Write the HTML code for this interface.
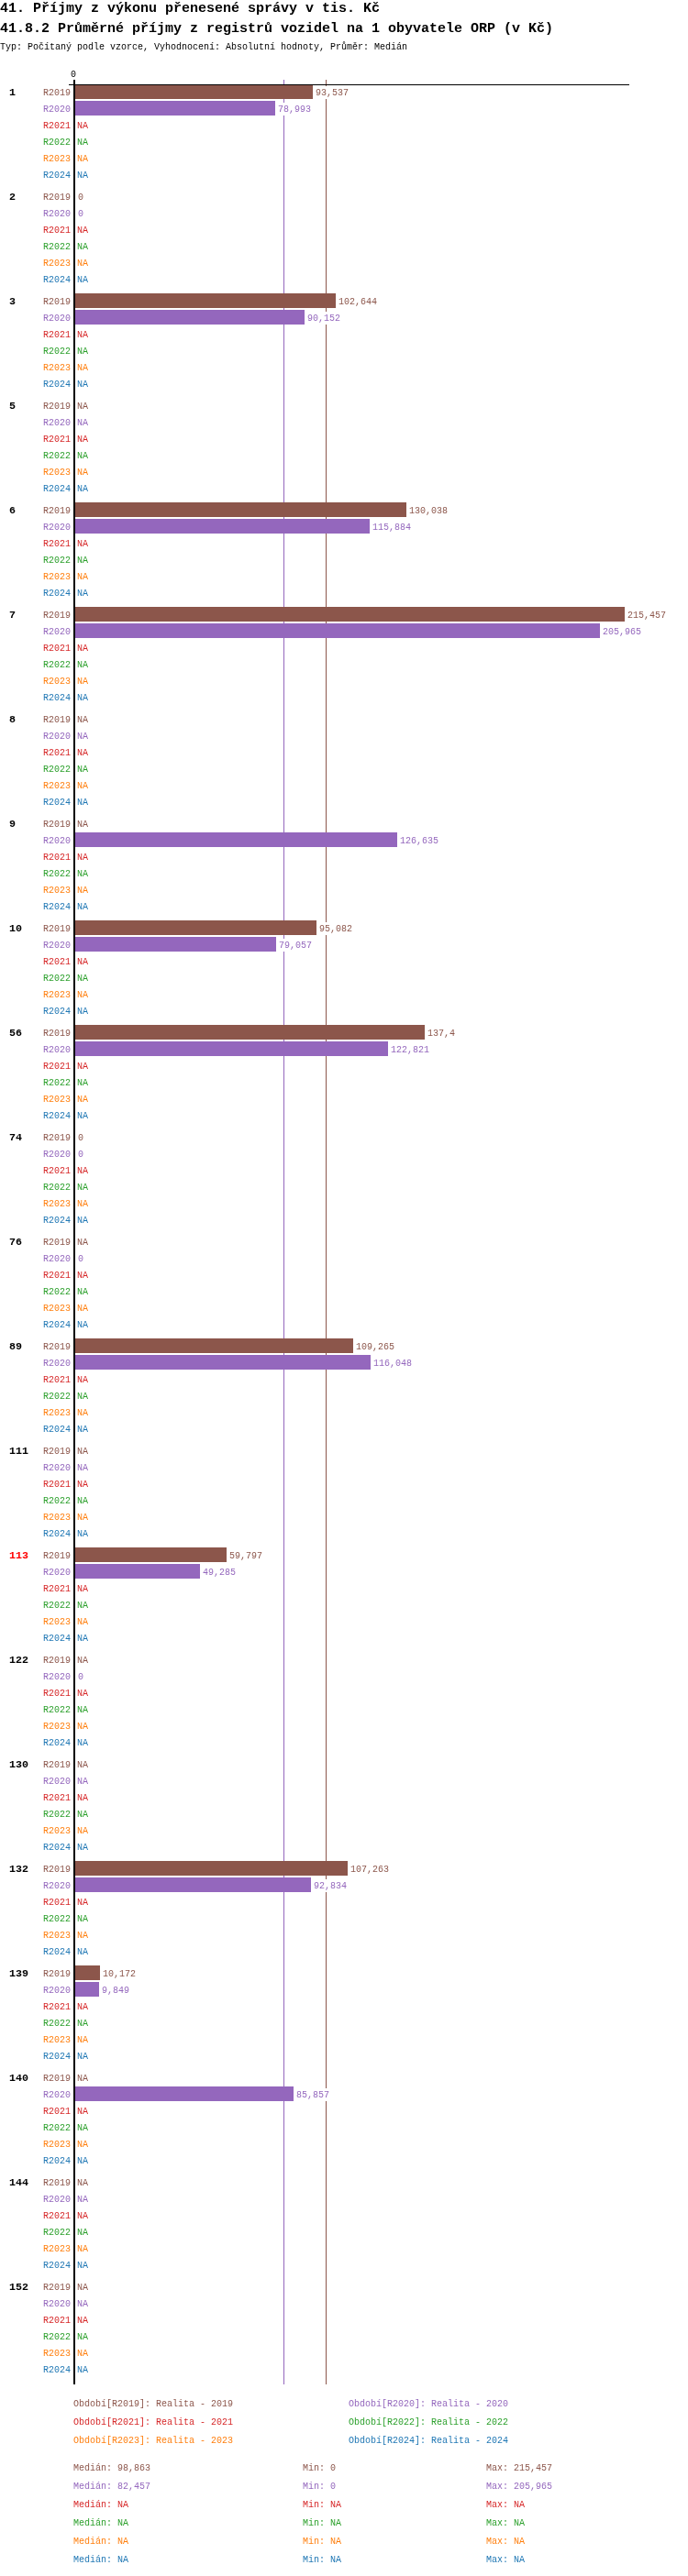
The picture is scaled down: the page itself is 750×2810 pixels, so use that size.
<!DOCTYPE html>
<html><head><meta charset="utf-8"><style>
html{background:#fff;}html,body{margin:0;padding:0;}
body{width:750px;height:2810px;position:relative;overflow:hidden;will-change:transform;font-family:"Liberation Mono",monospace;}
.t{position:absolute;white-space:pre;font-size:10px;line-height:12px;}
.h{position:absolute;left:0;white-space:pre;font-weight:bold;font-size:15px;line-height:18px;color:#000;}
.b{position:absolute;height:16px;left:82px;}
.g{position:absolute;left:10px;white-space:pre;font-weight:bold;font-size:11.67px;line-height:12px;color:#000;}
.l{position:absolute;}
.v{background:#fff;padding-top:2px;}
</style></head><body>

<div class="h" style="top:1px">41. Příjmy z výkonu přenesené správy v tis. Kč</div>
<div class="h" style="top:23px">41.8.2 Průměrné příjmy z registrů vozidel na 1 obyvatele ORP (v Kč)</div>
<div class="t" style="left:0;top:46px;color:#000">Typ: Počítaný podle vzorce, Vyhodnocení: Absolutní hodnoty, Průměr: Medián</div>
<div class="t" style="left:77px;top:76px;color:#000">0</div>
<div class="l" style="left:309px;top:87px;width:1px;height:2514px;background:#9467bd"></div>
<div class="l" style="left:355px;top:87px;width:1px;height:2514px;background:#8c564b"></div>
<div class="g" style="top:95px;color:#000">1</div>
<div class="t" style="left:47px;top:96px;color:#8c564b">R2019</div>
<div class="b" style="top:92px;width:259px;background:#8c564b"></div>
<div class="t v" style="left:344px;top:94px;color:#8c564b">93,537</div>
<div class="t" style="left:47px;top:114px;color:#9467bd">R2020</div>
<div class="b" style="top:110px;width:218px;background:#9467bd"></div>
<div class="t v" style="left:303px;top:112px;color:#9467bd">78,993</div>
<div class="t" style="left:47px;top:132px;color:#d62728">R2021</div>
<div class="t v" style="left:84px;top:130px;color:#d62728">NA</div>
<div class="t" style="left:47px;top:150px;color:#2ca02c">R2022</div>
<div class="t v" style="left:84px;top:148px;color:#2ca02c">NA</div>
<div class="t" style="left:47px;top:168px;color:#ff7f0e">R2023</div>
<div class="t v" style="left:84px;top:166px;color:#ff7f0e">NA</div>
<div class="t" style="left:47px;top:186px;color:#1f77b4">R2024</div>
<div class="t v" style="left:84px;top:184px;color:#1f77b4">NA</div>
<div class="g" style="top:209px;color:#000">2</div>
<div class="t" style="left:47px;top:210px;color:#8c564b">R2019</div>
<div class="t v" style="left:85px;top:208px;color:#8c564b">0</div>
<div class="t" style="left:47px;top:228px;color:#9467bd">R2020</div>
<div class="t v" style="left:85px;top:226px;color:#9467bd">0</div>
<div class="t" style="left:47px;top:246px;color:#d62728">R2021</div>
<div class="t v" style="left:84px;top:244px;color:#d62728">NA</div>
<div class="t" style="left:47px;top:264px;color:#2ca02c">R2022</div>
<div class="t v" style="left:84px;top:262px;color:#2ca02c">NA</div>
<div class="t" style="left:47px;top:282px;color:#ff7f0e">R2023</div>
<div class="t v" style="left:84px;top:280px;color:#ff7f0e">NA</div>
<div class="t" style="left:47px;top:300px;color:#1f77b4">R2024</div>
<div class="t v" style="left:84px;top:298px;color:#1f77b4">NA</div>
<div class="g" style="top:323px;color:#000">3</div>
<div class="t" style="left:47px;top:324px;color:#8c564b">R2019</div>
<div class="b" style="top:320px;width:284px;background:#8c564b"></div>
<div class="t v" style="left:369px;top:322px;color:#8c564b">102,644</div>
<div class="t" style="left:47px;top:342px;color:#9467bd">R2020</div>
<div class="b" style="top:338px;width:250px;background:#9467bd"></div>
<div class="t v" style="left:335px;top:340px;color:#9467bd">90,152</div>
<div class="t" style="left:47px;top:360px;color:#d62728">R2021</div>
<div class="t v" style="left:84px;top:358px;color:#d62728">NA</div>
<div class="t" style="left:47px;top:378px;color:#2ca02c">R2022</div>
<div class="t v" style="left:84px;top:376px;color:#2ca02c">NA</div>
<div class="t" style="left:47px;top:396px;color:#ff7f0e">R2023</div>
<div class="t v" style="left:84px;top:394px;color:#ff7f0e">NA</div>
<div class="t" style="left:47px;top:414px;color:#1f77b4">R2024</div>
<div class="t v" style="left:84px;top:412px;color:#1f77b4">NA</div>
<div class="g" style="top:437px;color:#000">5</div>
<div class="t" style="left:47px;top:438px;color:#8c564b">R2019</div>
<div class="t v" style="left:84px;top:436px;color:#8c564b">NA</div>
<div class="t" style="left:47px;top:456px;color:#9467bd">R2020</div>
<div class="t v" style="left:84px;top:454px;color:#9467bd">NA</div>
<div class="t" style="left:47px;top:474px;color:#d62728">R2021</div>
<div class="t v" style="left:84px;top:472px;color:#d62728">NA</div>
<div class="t" style="left:47px;top:492px;color:#2ca02c">R2022</div>
<div class="t v" style="left:84px;top:490px;color:#2ca02c">NA</div>
<div class="t" style="left:47px;top:510px;color:#ff7f0e">R2023</div>
<div class="t v" style="left:84px;top:508px;color:#ff7f0e">NA</div>
<div class="t" style="left:47px;top:528px;color:#1f77b4">R2024</div>
<div class="t v" style="left:84px;top:526px;color:#1f77b4">NA</div>
<div class="g" style="top:551px;color:#000">6</div>
<div class="t" style="left:47px;top:552px;color:#8c564b">R2019</div>
<div class="b" style="top:548px;width:361px;background:#8c564b"></div>
<div class="t v" style="left:446px;top:550px;color:#8c564b">130,038</div>
<div class="t" style="left:47px;top:570px;color:#9467bd">R2020</div>
<div class="b" style="top:566px;width:321px;background:#9467bd"></div>
<div class="t v" style="left:406px;top:568px;color:#9467bd">115,884</div>
<div class="t" style="left:47px;top:588px;color:#d62728">R2021</div>
<div class="t v" style="left:84px;top:586px;color:#d62728">NA</div>
<div class="t" style="left:47px;top:606px;color:#2ca02c">R2022</div>
<div class="t v" style="left:84px;top:604px;color:#2ca02c">NA</div>
<div class="t" style="left:47px;top:624px;color:#ff7f0e">R2023</div>
<div class="t v" style="left:84px;top:622px;color:#ff7f0e">NA</div>
<div class="t" style="left:47px;top:642px;color:#1f77b4">R2024</div>
<div class="t v" style="left:84px;top:640px;color:#1f77b4">NA</div>
<div class="g" style="top:665px;color:#000">7</div>
<div class="t" style="left:47px;top:666px;color:#8c564b">R2019</div>
<div class="b" style="top:662px;width:599px;background:#8c564b"></div>
<div class="t v" style="left:684px;top:664px;color:#8c564b">215,457</div>
<div class="t" style="left:47px;top:684px;color:#9467bd">R2020</div>
<div class="b" style="top:680px;width:572px;background:#9467bd"></div>
<div class="t v" style="left:657px;top:682px;color:#9467bd">205,965</div>
<div class="t" style="left:47px;top:702px;color:#d62728">R2021</div>
<div class="t v" style="left:84px;top:700px;color:#d62728">NA</div>
<div class="t" style="left:47px;top:720px;color:#2ca02c">R2022</div>
<div class="t v" style="left:84px;top:718px;color:#2ca02c">NA</div>
<div class="t" style="left:47px;top:738px;color:#ff7f0e">R2023</div>
<div class="t v" style="left:84px;top:736px;color:#ff7f0e">NA</div>
<div class="t" style="left:47px;top:756px;color:#1f77b4">R2024</div>
<div class="t v" style="left:84px;top:754px;color:#1f77b4">NA</div>
<div class="g" style="top:779px;color:#000">8</div>
<div class="t" style="left:47px;top:780px;color:#8c564b">R2019</div>
<div class="t v" style="left:84px;top:778px;color:#8c564b">NA</div>
<div class="t" style="left:47px;top:798px;color:#9467bd">R2020</div>
<div class="t v" style="left:84px;top:796px;color:#9467bd">NA</div>
<div class="t" style="left:47px;top:816px;color:#d62728">R2021</div>
<div class="t v" style="left:84px;top:814px;color:#d62728">NA</div>
<div class="t" style="left:47px;top:834px;color:#2ca02c">R2022</div>
<div class="t v" style="left:84px;top:832px;color:#2ca02c">NA</div>
<div class="t" style="left:47px;top:852px;color:#ff7f0e">R2023</div>
<div class="t v" style="left:84px;top:850px;color:#ff7f0e">NA</div>
<div class="t" style="left:47px;top:870px;color:#1f77b4">R2024</div>
<div class="t v" style="left:84px;top:868px;color:#1f77b4">NA</div>
<div class="g" style="top:893px;color:#000">9</div>
<div class="t" style="left:47px;top:894px;color:#8c564b">R2019</div>
<div class="t v" style="left:84px;top:892px;color:#8c564b">NA</div>
<div class="t" style="left:47px;top:912px;color:#9467bd">R2020</div>
<div class="b" style="top:908px;width:351px;background:#9467bd"></div>
<div class="t v" style="left:436px;top:910px;color:#9467bd">126,635</div>
<div class="t" style="left:47px;top:930px;color:#d62728">R2021</div>
<div class="t v" style="left:84px;top:928px;color:#d62728">NA</div>
<div class="t" style="left:47px;top:948px;color:#2ca02c">R2022</div>
<div class="t v" style="left:84px;top:946px;color:#2ca02c">NA</div>
<div class="t" style="left:47px;top:966px;color:#ff7f0e">R2023</div>
<div class="t v" style="left:84px;top:964px;color:#ff7f0e">NA</div>
<div class="t" style="left:47px;top:984px;color:#1f77b4">R2024</div>
<div class="t v" style="left:84px;top:982px;color:#1f77b4">NA</div>
<div class="g" style="top:1007px;color:#000">10</div>
<div class="t" style="left:47px;top:1008px;color:#8c564b">R2019</div>
<div class="b" style="top:1004px;width:263px;background:#8c564b"></div>
<div class="t v" style="left:348px;top:1006px;color:#8c564b">95,082</div>
<div class="t" style="left:47px;top:1026px;color:#9467bd">R2020</div>
<div class="b" style="top:1022px;width:219px;background:#9467bd"></div>
<div class="t v" style="left:304px;top:1024px;color:#9467bd">79,057</div>
<div class="t" style="left:47px;top:1044px;color:#d62728">R2021</div>
<div class="t v" style="left:84px;top:1042px;color:#d62728">NA</div>
<div class="t" style="left:47px;top:1062px;color:#2ca02c">R2022</div>
<div class="t v" style="left:84px;top:1060px;color:#2ca02c">NA</div>
<div class="t" style="left:47px;top:1080px;color:#ff7f0e">R2023</div>
<div class="t v" style="left:84px;top:1078px;color:#ff7f0e">NA</div>
<div class="t" style="left:47px;top:1098px;color:#1f77b4">R2024</div>
<div class="t v" style="left:84px;top:1096px;color:#1f77b4">NA</div>
<div class="g" style="top:1121px;color:#000">56</div>
<div class="t" style="left:47px;top:1122px;color:#8c564b">R2019</div>
<div class="b" style="top:1118px;width:381px;background:#8c564b"></div>
<div class="t v" style="left:466px;top:1120px;color:#8c564b">137,4</div>
<div class="t" style="left:47px;top:1140px;color:#9467bd">R2020</div>
<div class="b" style="top:1136px;width:341px;background:#9467bd"></div>
<div class="t v" style="left:426px;top:1138px;color:#9467bd">122,821</div>
<div class="t" style="left:47px;top:1158px;color:#d62728">R2021</div>
<div class="t v" style="left:84px;top:1156px;color:#d62728">NA</div>
<div class="t" style="left:47px;top:1176px;color:#2ca02c">R2022</div>
<div class="t v" style="left:84px;top:1174px;color:#2ca02c">NA</div>
<div class="t" style="left:47px;top:1194px;color:#ff7f0e">R2023</div>
<div class="t v" style="left:84px;top:1192px;color:#ff7f0e">NA</div>
<div class="t" style="left:47px;top:1212px;color:#1f77b4">R2024</div>
<div class="t v" style="left:84px;top:1210px;color:#1f77b4">NA</div>
<div class="g" style="top:1235px;color:#000">74</div>
<div class="t" style="left:47px;top:1236px;color:#8c564b">R2019</div>
<div class="t v" style="left:85px;top:1234px;color:#8c564b">0</div>
<div class="t" style="left:47px;top:1254px;color:#9467bd">R2020</div>
<div class="t v" style="left:85px;top:1252px;color:#9467bd">0</div>
<div class="t" style="left:47px;top:1272px;color:#d62728">R2021</div>
<div class="t v" style="left:84px;top:1270px;color:#d62728">NA</div>
<div class="t" style="left:47px;top:1290px;color:#2ca02c">R2022</div>
<div class="t v" style="left:84px;top:1288px;color:#2ca02c">NA</div>
<div class="t" style="left:47px;top:1308px;color:#ff7f0e">R2023</div>
<div class="t v" style="left:84px;top:1306px;color:#ff7f0e">NA</div>
<div class="t" style="left:47px;top:1326px;color:#1f77b4">R2024</div>
<div class="t v" style="left:84px;top:1324px;color:#1f77b4">NA</div>
<div class="g" style="top:1349px;color:#000">76</div>
<div class="t" style="left:47px;top:1350px;color:#8c564b">R2019</div>
<div class="t v" style="left:84px;top:1348px;color:#8c564b">NA</div>
<div class="t" style="left:47px;top:1368px;color:#9467bd">R2020</div>
<div class="t v" style="left:85px;top:1366px;color:#9467bd">0</div>
<div class="t" style="left:47px;top:1386px;color:#d62728">R2021</div>
<div class="t v" style="left:84px;top:1384px;color:#d62728">NA</div>
<div class="t" style="left:47px;top:1404px;color:#2ca02c">R2022</div>
<div class="t v" style="left:84px;top:1402px;color:#2ca02c">NA</div>
<div class="t" style="left:47px;top:1422px;color:#ff7f0e">R2023</div>
<div class="t v" style="left:84px;top:1420px;color:#ff7f0e">NA</div>
<div class="t" style="left:47px;top:1440px;color:#1f77b4">R2024</div>
<div class="t v" style="left:84px;top:1438px;color:#1f77b4">NA</div>
<div class="g" style="top:1463px;color:#000">89</div>
<div class="t" style="left:47px;top:1464px;color:#8c564b">R2019</div>
<div class="b" style="top:1460px;width:303px;background:#8c564b"></div>
<div class="t v" style="left:388px;top:1462px;color:#8c564b">109,265</div>
<div class="t" style="left:47px;top:1482px;color:#9467bd">R2020</div>
<div class="b" style="top:1478px;width:322px;background:#9467bd"></div>
<div class="t v" style="left:407px;top:1480px;color:#9467bd">116,048</div>
<div class="t" style="left:47px;top:1500px;color:#d62728">R2021</div>
<div class="t v" style="left:84px;top:1498px;color:#d62728">NA</div>
<div class="t" style="left:47px;top:1518px;color:#2ca02c">R2022</div>
<div class="t v" style="left:84px;top:1516px;color:#2ca02c">NA</div>
<div class="t" style="left:47px;top:1536px;color:#ff7f0e">R2023</div>
<div class="t v" style="left:84px;top:1534px;color:#ff7f0e">NA</div>
<div class="t" style="left:47px;top:1554px;color:#1f77b4">R2024</div>
<div class="t v" style="left:84px;top:1552px;color:#1f77b4">NA</div>
<div class="g" style="top:1577px;color:#000">111</div>
<div class="t" style="left:47px;top:1578px;color:#8c564b">R2019</div>
<div class="t v" style="left:84px;top:1576px;color:#8c564b">NA</div>
<div class="t" style="left:47px;top:1596px;color:#9467bd">R2020</div>
<div class="t v" style="left:84px;top:1594px;color:#9467bd">NA</div>
<div class="t" style="left:47px;top:1614px;color:#d62728">R2021</div>
<div class="t v" style="left:84px;top:1612px;color:#d62728">NA</div>
<div class="t" style="left:47px;top:1632px;color:#2ca02c">R2022</div>
<div class="t v" style="left:84px;top:1630px;color:#2ca02c">NA</div>
<div class="t" style="left:47px;top:1650px;color:#ff7f0e">R2023</div>
<div class="t v" style="left:84px;top:1648px;color:#ff7f0e">NA</div>
<div class="t" style="left:47px;top:1668px;color:#1f77b4">R2024</div>
<div class="t v" style="left:84px;top:1666px;color:#1f77b4">NA</div>
<div class="g" style="top:1691px;color:#ff0000">113</div>
<div class="t" style="left:47px;top:1692px;color:#8c564b">R2019</div>
<div class="b" style="top:1688px;width:165px;background:#8c564b"></div>
<div class="t v" style="left:250px;top:1690px;color:#8c564b">59,797</div>
<div class="t" style="left:47px;top:1710px;color:#9467bd">R2020</div>
<div class="b" style="top:1706px;width:136px;background:#9467bd"></div>
<div class="t v" style="left:221px;top:1708px;color:#9467bd">49,285</div>
<div class="t" style="left:47px;top:1728px;color:#d62728">R2021</div>
<div class="t v" style="left:84px;top:1726px;color:#d62728">NA</div>
<div class="t" style="left:47px;top:1746px;color:#2ca02c">R2022</div>
<div class="t v" style="left:84px;top:1744px;color:#2ca02c">NA</div>
<div class="t" style="left:47px;top:1764px;color:#ff7f0e">R2023</div>
<div class="t v" style="left:84px;top:1762px;color:#ff7f0e">NA</div>
<div class="t" style="left:47px;top:1782px;color:#1f77b4">R2024</div>
<div class="t v" style="left:84px;top:1780px;color:#1f77b4">NA</div>
<div class="g" style="top:1805px;color:#000">122</div>
<div class="t" style="left:47px;top:1806px;color:#8c564b">R2019</div>
<div class="t v" style="left:84px;top:1804px;color:#8c564b">NA</div>
<div class="t" style="left:47px;top:1824px;color:#9467bd">R2020</div>
<div class="t v" style="left:85px;top:1822px;color:#9467bd">0</div>
<div class="t" style="left:47px;top:1842px;color:#d62728">R2021</div>
<div class="t v" style="left:84px;top:1840px;color:#d62728">NA</div>
<div class="t" style="left:47px;top:1860px;color:#2ca02c">R2022</div>
<div class="t v" style="left:84px;top:1858px;color:#2ca02c">NA</div>
<div class="t" style="left:47px;top:1878px;color:#ff7f0e">R2023</div>
<div class="t v" style="left:84px;top:1876px;color:#ff7f0e">NA</div>
<div class="t" style="left:47px;top:1896px;color:#1f77b4">R2024</div>
<div class="t v" style="left:84px;top:1894px;color:#1f77b4">NA</div>
<div class="g" style="top:1919px;color:#000">130</div>
<div class="t" style="left:47px;top:1920px;color:#8c564b">R2019</div>
<div class="t v" style="left:84px;top:1918px;color:#8c564b">NA</div>
<div class="t" style="left:47px;top:1938px;color:#9467bd">R2020</div>
<div class="t v" style="left:84px;top:1936px;color:#9467bd">NA</div>
<div class="t" style="left:47px;top:1956px;color:#d62728">R2021</div>
<div class="t v" style="left:84px;top:1954px;color:#d62728">NA</div>
<div class="t" style="left:47px;top:1974px;color:#2ca02c">R2022</div>
<div class="t v" style="left:84px;top:1972px;color:#2ca02c">NA</div>
<div class="t" style="left:47px;top:1992px;color:#ff7f0e">R2023</div>
<div class="t v" style="left:84px;top:1990px;color:#ff7f0e">NA</div>
<div class="t" style="left:47px;top:2010px;color:#1f77b4">R2024</div>
<div class="t v" style="left:84px;top:2008px;color:#1f77b4">NA</div>
<div class="g" style="top:2033px;color:#000">132</div>
<div class="t" style="left:47px;top:2034px;color:#8c564b">R2019</div>
<div class="b" style="top:2030px;width:297px;background:#8c564b"></div>
<div class="t v" style="left:382px;top:2032px;color:#8c564b">107,263</div>
<div class="t" style="left:47px;top:2052px;color:#9467bd">R2020</div>
<div class="b" style="top:2048px;width:257px;background:#9467bd"></div>
<div class="t v" style="left:342px;top:2050px;color:#9467bd">92,834</div>
<div class="t" style="left:47px;top:2070px;color:#d62728">R2021</div>
<div class="t v" style="left:84px;top:2068px;color:#d62728">NA</div>
<div class="t" style="left:47px;top:2088px;color:#2ca02c">R2022</div>
<div class="t v" style="left:84px;top:2086px;color:#2ca02c">NA</div>
<div class="t" style="left:47px;top:2106px;color:#ff7f0e">R2023</div>
<div class="t v" style="left:84px;top:2104px;color:#ff7f0e">NA</div>
<div class="t" style="left:47px;top:2124px;color:#1f77b4">R2024</div>
<div class="t v" style="left:84px;top:2122px;color:#1f77b4">NA</div>
<div class="g" style="top:2147px;color:#000">139</div>
<div class="t" style="left:47px;top:2148px;color:#8c564b">R2019</div>
<div class="b" style="top:2144px;width:27px;background:#8c564b"></div>
<div class="t v" style="left:112px;top:2146px;color:#8c564b">10,172</div>
<div class="t" style="left:47px;top:2166px;color:#9467bd">R2020</div>
<div class="b" style="top:2162px;width:26px;background:#9467bd"></div>
<div class="t v" style="left:111px;top:2164px;color:#9467bd">9,849</div>
<div class="t" style="left:47px;top:2184px;color:#d62728">R2021</div>
<div class="t v" style="left:84px;top:2182px;color:#d62728">NA</div>
<div class="t" style="left:47px;top:2202px;color:#2ca02c">R2022</div>
<div class="t v" style="left:84px;top:2200px;color:#2ca02c">NA</div>
<div class="t" style="left:47px;top:2220px;color:#ff7f0e">R2023</div>
<div class="t v" style="left:84px;top:2218px;color:#ff7f0e">NA</div>
<div class="t" style="left:47px;top:2238px;color:#1f77b4">R2024</div>
<div class="t v" style="left:84px;top:2236px;color:#1f77b4">NA</div>
<div class="g" style="top:2261px;color:#000">140</div>
<div class="t" style="left:47px;top:2262px;color:#8c564b">R2019</div>
<div class="t v" style="left:84px;top:2260px;color:#8c564b">NA</div>
<div class="t" style="left:47px;top:2280px;color:#9467bd">R2020</div>
<div class="b" style="top:2276px;width:238px;background:#9467bd"></div>
<div class="t v" style="left:323px;top:2278px;color:#9467bd">85,857</div>
<div class="t" style="left:47px;top:2298px;color:#d62728">R2021</div>
<div class="t v" style="left:84px;top:2296px;color:#d62728">NA</div>
<div class="t" style="left:47px;top:2316px;color:#2ca02c">R2022</div>
<div class="t v" style="left:84px;top:2314px;color:#2ca02c">NA</div>
<div class="t" style="left:47px;top:2334px;color:#ff7f0e">R2023</div>
<div class="t v" style="left:84px;top:2332px;color:#ff7f0e">NA</div>
<div class="t" style="left:47px;top:2352px;color:#1f77b4">R2024</div>
<div class="t v" style="left:84px;top:2350px;color:#1f77b4">NA</div>
<div class="g" style="top:2375px;color:#000">144</div>
<div class="t" style="left:47px;top:2376px;color:#8c564b">R2019</div>
<div class="t v" style="left:84px;top:2374px;color:#8c564b">NA</div>
<div class="t" style="left:47px;top:2394px;color:#9467bd">R2020</div>
<div class="t v" style="left:84px;top:2392px;color:#9467bd">NA</div>
<div class="t" style="left:47px;top:2412px;color:#d62728">R2021</div>
<div class="t v" style="left:84px;top:2410px;color:#d62728">NA</div>
<div class="t" style="left:47px;top:2430px;color:#2ca02c">R2022</div>
<div class="t v" style="left:84px;top:2428px;color:#2ca02c">NA</div>
<div class="t" style="left:47px;top:2448px;color:#ff7f0e">R2023</div>
<div class="t v" style="left:84px;top:2446px;color:#ff7f0e">NA</div>
<div class="t" style="left:47px;top:2466px;color:#1f77b4">R2024</div>
<div class="t v" style="left:84px;top:2464px;color:#1f77b4">NA</div>
<div class="g" style="top:2489px;color:#000">152</div>
<div class="t" style="left:47px;top:2490px;color:#8c564b">R2019</div>
<div class="t v" style="left:84px;top:2488px;color:#8c564b">NA</div>
<div class="t" style="left:47px;top:2508px;color:#9467bd">R2020</div>
<div class="t v" style="left:84px;top:2506px;color:#9467bd">NA</div>
<div class="t" style="left:47px;top:2526px;color:#d62728">R2021</div>
<div class="t v" style="left:84px;top:2524px;color:#d62728">NA</div>
<div class="t" style="left:47px;top:2544px;color:#2ca02c">R2022</div>
<div class="t v" style="left:84px;top:2542px;color:#2ca02c">NA</div>
<div class="t" style="left:47px;top:2562px;color:#ff7f0e">R2023</div>
<div class="t v" style="left:84px;top:2560px;color:#ff7f0e">NA</div>
<div class="t" style="left:47px;top:2580px;color:#1f77b4">R2024</div>
<div class="t v" style="left:84px;top:2578px;color:#1f77b4">NA</div>
<div class="l" style="left:80px;top:87px;width:2px;height:2514px;background:#000"></div>
<div class="l" style="left:75px;top:92px;width:611px;height:1px;background:#000"></div>
<div class="t" style="left:80px;top:2617px;color:#8c564b">Období[R2019]: Realita - 2019</div>
<div class="t" style="left:380px;top:2617px;color:#9467bd">Období[R2020]: Realita - 2020</div>
<div class="t" style="left:80px;top:2637px;color:#d62728">Období[R2021]: Realita - 2021</div>
<div class="t" style="left:380px;top:2637px;color:#2ca02c">Období[R2022]: Realita - 2022</div>
<div class="t" style="left:80px;top:2657px;color:#ff7f0e">Období[R2023]: Realita - 2023</div>
<div class="t" style="left:380px;top:2657px;color:#1f77b4">Období[R2024]: Realita - 2024</div>
<div class="t" style="left:80px;top:2687px;color:#8c564b">Medián: 98,863</div>
<div class="t" style="left:330px;top:2687px;color:#8c564b">Min: 0</div>
<div class="t" style="left:530px;top:2687px;color:#8c564b">Max: 215,457</div>
<div class="t" style="left:80px;top:2707px;color:#9467bd">Medián: 82,457</div>
<div class="t" style="left:330px;top:2707px;color:#9467bd">Min: 0</div>
<div class="t" style="left:530px;top:2707px;color:#9467bd">Max: 205,965</div>
<div class="t" style="left:80px;top:2727px;color:#d62728">Medián: NA</div>
<div class="t" style="left:330px;top:2727px;color:#d62728">Min: NA</div>
<div class="t" style="left:530px;top:2727px;color:#d62728">Max: NA</div>
<div class="t" style="left:80px;top:2747px;color:#2ca02c">Medián: NA</div>
<div class="t" style="left:330px;top:2747px;color:#2ca02c">Min: NA</div>
<div class="t" style="left:530px;top:2747px;color:#2ca02c">Max: NA</div>
<div class="t" style="left:80px;top:2767px;color:#ff7f0e">Medián: NA</div>
<div class="t" style="left:330px;top:2767px;color:#ff7f0e">Min: NA</div>
<div class="t" style="left:530px;top:2767px;color:#ff7f0e">Max: NA</div>
<div class="t" style="left:80px;top:2787px;color:#1f77b4">Medián: NA</div>
<div class="t" style="left:330px;top:2787px;color:#1f77b4">Min: NA</div>
<div class="t" style="left:530px;top:2787px;color:#1f77b4">Max: NA</div>
</body></html>
